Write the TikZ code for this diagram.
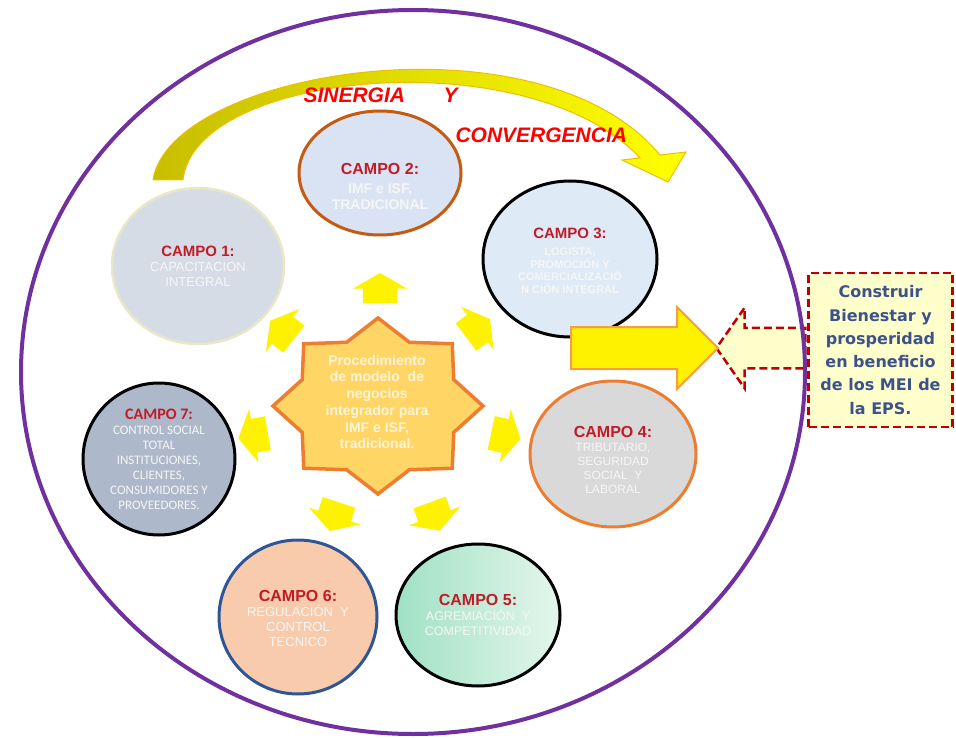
\documentclass[tikz,border=0pt]{standalone}
\usepackage{fontspec}
\setmainfont{Liberation Sans}
\newfontfamily\dejavu{DejaVu Sans}
\newfontfamily\carlito{Carlito}
\usepackage{tikz}
\usetikzlibrary{shapes.geometric, shapes.arrows}
\usepackage{xcolor}
\definecolor{campored}{RGB}{192,28,40}
\definecolor{ringpurple}{RGB}{112,48,160}
\definecolor{starfill}{RGB}{255,214,102}
\definecolor{starline}{RGB}{237,125,49}
\definecolor{startext}{RGB}{255,244,214}
\definecolor{goalblue}{RGB}{59,82,139}
\definecolor{goalred}{RGB}{192,0,0}
\definecolor{goalfill}{RGB}{255,255,204}
\definecolor{softwhite}{RGB}{246,246,246}
\definecolor{arcolive}{RGB}{200,190,0}
\definecolor{arcline}{RGB}{240,190,0}
\definecolor{arroworange}{RGB}{244,160,64}
\newcommand{\campohead}[2][16]{{\color{campored}\bfseries\fontsize{#1}{#1}\selectfont #2}}
\tikzset{%
	campo circle/.style={
		ellipse,
		line width=3pt,
		inner sep=0pt
	},
	campo text/.style={
		align=center,
		text=softwhite,
		inner sep=0pt
	},
	small arrow/.style={
		single arrow,
		fill=yellow,
		minimum height=30pt,
		minimum width=54pt,
		single arrow head extend=10pt,
		single arrow tip angle=120,
		inner xsep=0pt,
		inner ysep=17pt
	},
}

\begin{document}
\begin{tikzpicture}[
				x=1pt,
				y=-1pt
				]
				\useasboundingbox (0,0) rectangle (956,738);
				
				\node[single arrow, shape border rotate=180, fill=goalfill, draw=goalred, dash pattern=on 8pt off 4pt, line width=2.5pt, minimum height=89pt, minimum width=78pt, single arrow head extend=20pt, single arrow tip angle=110, inner xsep=0pt, inner ysep=19pt] (pull) at (768,348) {};
				\draw[line width=4pt, ringpurple] (413,372) ellipse [x radius=392, y radius=362];
				
				\path[left color=arcolive, right color=yellow, draw=arcline, line width=1pt]
					(153,180) .. controls (170,70) and (540,10) .. (660,155) -- (686,152) -- (668,182)
					-- (622,160) -- (640,158) .. controls (530,40) and (195,70) .. (183,180) -- cycle;
				\node[anchor=base west, text=red, font=\bfseries\itshape\fontsize{21}{21}\selectfont] (syn) at (300,103) {SINERGIA};
				\node[anchor=base west, text=red, font=\bfseries\itshape\fontsize{21}{21}\selectfont] (yy) at (440,103) {Y};
				\node[anchor=base west, text=red, font=\bfseries\itshape\fontsize{21}{21}\selectfont] (conv) at (452,143) {CONVERGENCIA};
				
				\node[campo circle, fill={rgb,255:red,214;green,220;blue,229}, draw={rgb,255:red,232;green,232;blue,200}, line width=2.5pt, minimum width=172pt, minimum height=156pt] (c1) at (198,266) {};
				\node[campo circle, fill={rgb,255:red,218;green,227;blue,243}, draw={rgb,255:red,197;green,90;blue,17}, minimum width=162pt, minimum height=124pt] (c2) at (380,173) {};
				\node[campo circle, fill={rgb,255:red,222;green,235;blue,247}, draw=black, minimum width=174pt, minimum height=156pt] (c3) at (570,259) {};
				\node[campo circle, fill={rgb,255:red,217;green,217;blue,217}, draw=starline, minimum width=166pt, minimum height=146pt] (c4) at (613,454) {};
				\node[campo circle, left color={rgb,255:red,160;green,225;blue,195}, right color={rgb,255:red,228;green,246;blue,237}, draw=black, minimum width=164pt, minimum height=142pt] (c5) at (478,615) {};
				\node[campo circle, fill={rgb,255:red,248;green,203;blue,173}, draw={rgb,255:red,47;green,85;blue,151}, minimum width=158pt, minimum height=154pt] (c6) at (298,617) {};
				\node[campo circle, fill={rgb,255:red,173;green,185;blue,202}, draw=black, minimum width=152pt, minimum height=152pt] (c7) at (159,459) {};
				
				\node[campo text, font=\fontsize{13}{15}\selectfont] (t1) at (198,266) {\campohead[15]{CAMPO 1:}\\ CAPACITACION\\ INTEGRAL};
				\node[campo text, font=\bfseries\fontsize{14}{16}\selectfont] (t2) at (380,186) {\campohead{CAMPO 2:}\\[3pt] IMF e ISF,\\ TRADICIONAL};
				\node[campo text, font=\bfseries\fontsize{11}{12.7}\selectfont] (t3) at (570,261) {\campohead[15]{CAMPO 3:}\\[4pt] LOGISTA,\\ PROMOCIÓN Y\\ COMERCIALIZACIÓ\\ N CIÓN INTEGRAL};
				\node[campo text, font=\fontsize{12}{14}\selectfont] (t4) at (613,460) {\campohead{CAMPO 4:}\\ TRIBUTARIO,\\ SEGURIDAD\\ SOCIAL\ \ Y\\ LABORAL};
				\node[campo text, font=\fontsize{12.5}{15}\selectfont] (t5) at (478,615) {\campohead{CAMPO 5:}\\ AGREMIACIÓN\ \ Y\\ COMPETITIVIDAD};
				\node[campo text, font=\fontsize{13}{15}\selectfont] (t6) at (298,618) {\campohead{CAMPO 6:}\\ REGULACIÓN\ \ Y\\ CONTROL\\ TECNICO};
				\node[campo text, font=\carlito\fontsize{13}{15}\selectfont] (t7) at (159,459) {\campohead{CAMPO 7:}\\ CONTROL SOCIAL\\ TOTAL\\ INSTITUCIONES,\\ CLIENTES,\\ CONSUMIDORES Y\\ PROVEEDORES.};
				
				\draw[line width=3.5pt, draw=starline, fill=starfill, line join=miter, shift={(378,406)}]
					(0:105 and 88) \foreach \a in {0,45,...,315} { -- ({\a+22.5}:82 and 69) -- ({\a+45}:105 and 88) } -- cycle;
				\node[align=center, text=startext, font=\bfseries\fontsize{14}{16.7}\selectfont] (star) at (377,402) {Procedimiento\\ de modelo\ \ de\\ negocios\\ integrador para\\ IMF e ISF,\\ tradicional.};
				
				\node[small arrow, rotate=142] (a1) at (286,333) {};
				\node[small arrow, rotate=90] (a2) at (380,293) {};
				\node[small arrow, rotate=37] (a3) at (474,331) {};
				\node[small arrow, rotate=-12] (a4) at (501,435) {};
				\node[small arrow, rotate=-70] (a5) at (433,512) {};
				\node[small arrow, rotate=-108] (a6) at (336,512) {};
				\node[small arrow, rotate=190] (a7) at (258,435) {};
				
				\node[single arrow, fill=yellow, draw=arroworange, line width=2pt, minimum height=147pt, minimum width=80pt, single arrow head extend=20pt, single arrow tip angle=90, inner xsep=0pt, inner ysep=20pt] (push) at (634,348) {};
				
				\node[draw=goalred, dash pattern=on 8pt off 4pt, line width=2.5pt, fill=goalfill, minimum width=144pt, minimum height=154pt, align=center, text=goalblue, font=\dejavu\bfseries\fontsize{16}{23.3}\selectfont] (goal) at (880.5,350) {Construir\\ Bienestar y\\ prosperidad\\ en beneficio\\ de los MEI de\\ la EPS.};
				
			\end{tikzpicture}
\end{document}
